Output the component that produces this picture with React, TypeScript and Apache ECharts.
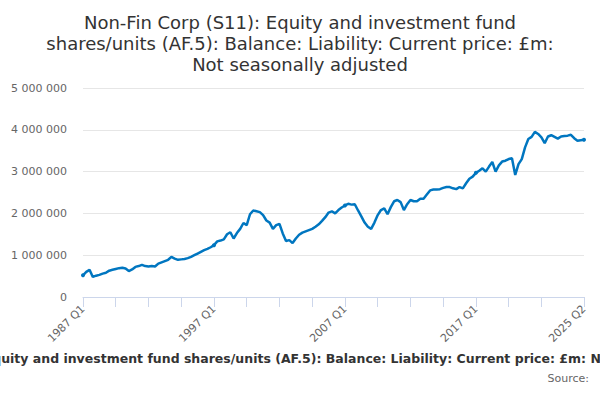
import React, { useEffect, useRef } from "react";
import * as echarts from "echarts";

const TITLE =
  "Non-Fin Corp (S11): Equity and investment fund\nshares/units (AF.5): Balance: Liability: Current price: £m:\nNot seasonally adjusted";
const SERIES_NAME =
  "Non-Fin Corp (S11): Equity and investment fund shares/units (AF.5): Balance: Liability: Current price: £m: Not seasonally adjusted";

const START_YEAR = 1987;
const END_YEAR = 2025;
const END_QUARTER = 2;

const categories: string[] = [];
for (let y = START_YEAR; y <= END_YEAR; y++) {
  for (let q = 1; q <= 4; q++) {
    if (y === END_YEAR && q > END_QUARTER) break;
    categories.push(`${y} Q${q}`);
  }
}

// £m, quarterly from 1987 Q1 to 2025 Q2
const values: number[] = [
  520000, 600000, 650000, 480000, 510000, 530000, 560000, 580000, 630000, 650000,
  670000, 690000, 700000, 680000, 620000, 660000, 720000, 740000, 770000, 740000,
  730000, 740000, 730000, 800000, 830000, 860000, 890000, 960000, 920000, 890000,
  900000, 910000, 930000, 960000, 1000000, 1040000, 1080000, 1120000, 1150000, 1190000,
  1240000, 1330000, 1350000, 1380000, 1500000, 1550000, 1400000, 1530000, 1630000, 1770000,
  1720000, 1980000, 2070000, 2050000, 2030000, 1960000, 1830000, 1780000, 1630000, 1720000,
  1750000, 1520000, 1340000, 1360000, 1290000, 1400000, 1490000, 1540000, 1570000, 1600000,
  1630000, 1680000, 1740000, 1820000, 1910000, 2020000, 2050000, 2000000, 2080000, 2140000,
  2190000, 2230000, 2210000, 2220000, 2070000, 1930000, 1780000, 1680000, 1630000, 1780000,
  1960000, 2080000, 2120000, 1980000, 2150000, 2290000, 2320000, 2270000, 2080000, 2220000,
  2320000, 2290000, 2290000, 2350000, 2350000, 2450000, 2550000, 2570000, 2570000, 2580000,
  2610000, 2630000, 2630000, 2600000, 2580000, 2630000, 2600000, 2720000, 2830000, 2880000,
  2970000, 3020000, 3080000, 3000000, 3120000, 3230000, 3000000, 3150000, 3240000, 3260000,
  3300000, 3320000, 2920000, 3180000, 3300000, 3580000, 3780000, 3830000, 3950000, 3900000,
  3820000, 3680000, 3840000, 3870000, 3830000, 3790000, 3840000, 3850000, 3860000, 3880000,
  3800000, 3740000, 3750000, 3760000,
];

const TICK_INDICES = [0, 10, 20, 30, 40, 50, 60, 70, 80, 90, 100, 110, 120, 130, 140, 153];
const LABEL_INDICES = [0, 40, 80, 120, 153];

const FONT = '"DejaVu Sans", Verdana, sans-serif';

function fmt(v: number): string {
  return String(v).replace(/\B(?=(\d{3})+(?!\d))/g, " ");
}

export default function App() {
  const ref = useRef<HTMLDivElement>(null);
  useEffect(() => {
    if (!ref.current) return;
    const chart = echarts.init(ref.current, undefined, { renderer: "svg" });
    chart.setOption({
      animation: false,
      backgroundColor: "#ffffff",
      textStyle: { fontFamily: FONT },
      title: {
        text: TITLE,
        left: "center",
        top: 7,
        textStyle: {
          fontFamily: FONT,
          fontSize: 18,
          fontWeight: "normal",
          color: "#333333",
          lineHeight: 21,
        },
      },
      grid: { left: 83, right: 16, top: 88, bottom: 103, containLabel: false },
      xAxis: {
        type: "category",
        data: categories,
        boundaryGap: false,
        axisLine: { show: true, lineStyle: { color: "#ccd6eb", width: 1 } },
        axisTick: {
          show: true,
          length: 10,
          interval: (i: number) => TICK_INDICES.indexOf(i) >= 0,
          lineStyle: { color: "#ccd6eb" },
        },
        axisLabel: {
          interval: (i: number) => LABEL_INDICES.indexOf(i) >= 0,
          rotate: 45,
          color: "#666666",
          fontSize: 11,
          fontFamily: FONT,
          margin: 10,
        },
        splitLine: { show: false },
      },
      yAxis: {
        type: "value",
        min: 0,
        max: 5000000,
        interval: 1000000,
        axisLine: { show: false },
        axisTick: { show: false },
        splitLine: { lineStyle: { color: "#e6e6e6", width: 1 } },
        axisLabel: {
          color: "#666666",
          fontSize: 11,
          fontFamily: FONT,
          margin: 16,
          formatter: (v: number) => fmt(v),
        },
      },
      series: [
        {
          name: SERIES_NAME,
          type: "line",
          data: values,
          showSymbol: true,
          symbol: "circle",
          symbolSize: 4,
          itemStyle: { color: "#0076c0" },
          lineStyle: { color: "#0076c0", width: 2.5 },
        },
      ],
      graphic: [
        {
          type: "text",
          style: {
            x: 300,
            y: 358,
            text: SERIES_NAME,
            textAlign: "center",
            textVerticalAlign: "middle",
            font: `bold 12.5px ${FONT}`,
            fill: "#333333",
          },
        },
        {
          type: "text",
          style: {
            x: 589,
            y: 378,
            text: "Source:",
            textAlign: "right",
            textVerticalAlign: "middle",
            font: `11px ${FONT}`,
            fill: "#666666",
          },
        },
      ],
    });
    return () => chart.dispose();
  }, []);
  return (
    <div
      ref={ref}
      style={{ position: "fixed", left: 0, top: 0, width: 600, height: 400, overflow: "hidden" }}
    />
  );
}
